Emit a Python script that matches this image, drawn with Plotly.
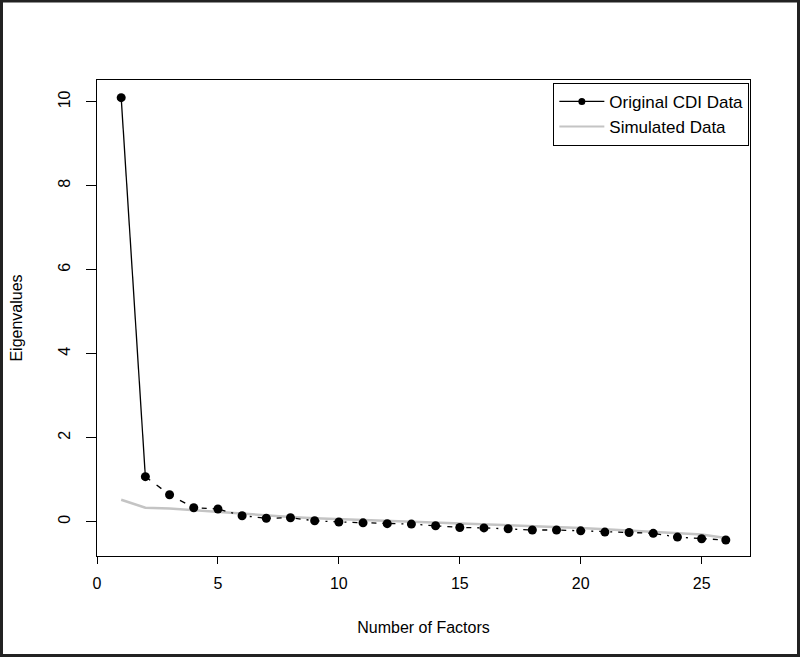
import plotly.graph_objects as go

factors = list(range(1, 27))
original = [10.1, 1.07, 0.64, 0.33, 0.30, 0.14, 0.08, 0.09, 0.02, -0.01, -0.03, -0.05,
            -0.06, -0.10, -0.14, -0.15, -0.17, -0.20, -0.20, -0.22, -0.25, -0.26, -0.28,
            -0.37, -0.41, -0.44]
simulated = [0.52, 0.33, 0.31, 0.27, 0.22, 0.18, 0.14, 0.11, 0.08, 0.06, 0.04, 0.02,
             0.00, -0.02, -0.05, -0.07, -0.09, -0.11, -0.13, -0.15, -0.18, -0.21, -0.24,
             -0.27, -0.31, -0.39]
x_ticks = [0, 5, 10, 15, 20, 25]
y_ticks = [0, 2, 4, 6, 8, 10]

W, H = 800, 657
ML, MR, MT, MB = 97, 50, 80, 101
font = "Arial, Liberation Sans, sans-serif"

fig = go.Figure()
fig.add_trace(go.Scatter(x=factors, y=simulated, mode="lines", name="Simulated Data",
                         line=dict(color="#C4C4C4", width=2.5), showlegend=False))
fig.add_trace(go.Scatter(x=factors[0:2], y=original[0:2], mode="lines",
                         line=dict(color="black", width=1.3), showlegend=False, hoverinfo="skip"))
fig.add_trace(go.Scatter(x=factors[1:4], y=original[1:4], mode="lines",
                         line=dict(color="black", width=1.3, dash="6px,8px"), showlegend=False, hoverinfo="skip"))
fig.add_trace(go.Scatter(x=factors[3:], y=original[3:], mode="lines",
                         line=dict(color="black", width=1.3, dash="2px,6px,5px,6px"), showlegend=False, hoverinfo="skip"))
fig.add_trace(go.Scatter(x=factors, y=original, mode="markers",
                         marker=dict(color="black", size=9), showlegend=False))
fig.add_trace(go.Scatter(x=[None], y=[None], mode="lines+markers", name="Original CDI Data",
                         line=dict(color="black", width=1.3), marker=dict(color="black", size=7)))
fig.add_trace(go.Scatter(x=[None], y=[None], mode="lines", name="Simulated Data",
                         line=dict(color="#C4C4C4", width=2)))

pw = W - ML - MR
ph = H - MT - MB
fig.add_shape(type="rect", xref="paper", yref="paper",
              x0=-(ML - 1.5) / pw, x1=1 + (MR - 1.5) / pw,
              y0=-(MB - 1.5) / ph, y1=1 + (MT - 1.0) / ph,
              line=dict(color="#222222", width=3), layer="above")

fig.update_layout(
    width=W, height=H,
    margin=dict(l=ML, r=MR, t=MT, b=MB, pad=0),
    paper_bgcolor="white", plot_bgcolor="white",
    font=dict(family=font, size=16, color="black"),
    showlegend=True,
    legend=dict(x=0.999, y=0.994, xanchor="right", yanchor="top",
                bordercolor="black", borderwidth=1, bgcolor="white",
                font=dict(size=17, family=font), itemwidth=45, tracegroupgap=0),
    xaxis=dict(range=[0, 27], tickvals=x_ticks, ticks="outside", ticklen=7,
               tickcolor="black", showgrid=False, zeroline=False, automargin=False,
               showline=True, mirror=True, linecolor="black", linewidth=1,
               tickfont=dict(size=16), ticklabelstandoff=6,
               title=dict(text="Number of Factors", standoff=30, font=dict(size=16))),
    yaxis=dict(range=[-0.82, 10.52], tickvals=y_ticks, ticks="outside", ticklen=10,
               tickcolor="black", showgrid=False, zeroline=False, automargin=False,
               showline=True, mirror=True, linecolor="black", linewidth=1,
               tickangle=-90, tickfont=dict(size=16), ticklabelstandoff=10,
               title=dict(text="Eigenvalues", standoff=28, font=dict(size=16))),
)

fig.write_html("out.html", config={"displayModeBar": False},
               post_script="document.body.style.margin='0';")
